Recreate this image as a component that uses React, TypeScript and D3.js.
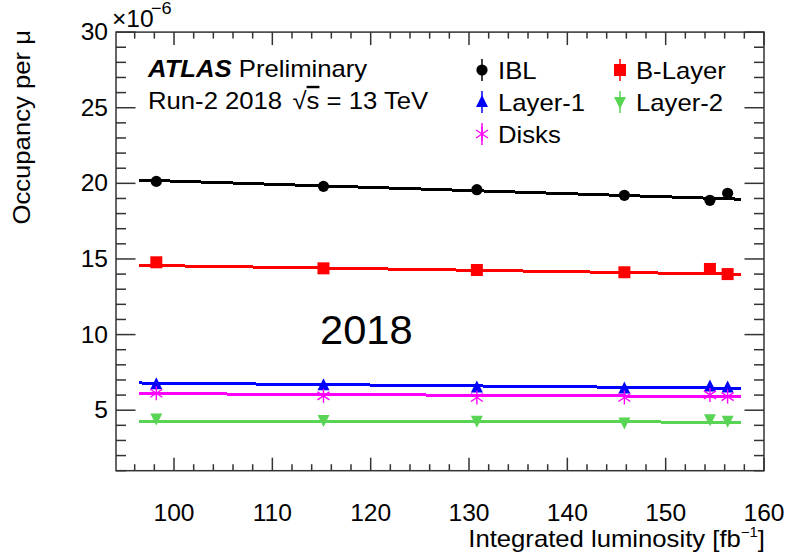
import React from "react";
import * as d3 from "d3";

// ---- data ----
const lumi = [98.2, 115.2, 130.8, 145.8, 154.5, 156.3];
const ibl = [20.13, 19.8, 19.58, 19.21, 18.88, 19.34];
const bLayer = [14.78, 14.38, 14.27, 14.12, 14.34, 14.0];
const layer1 = [6.72, 6.65, 6.5, 6.43, 6.56, 6.5];
const disks = [6.12, 5.95, 5.84, 5.84, 6.01, 5.9];
const layer2 = [4.45, 4.36, 4.3, 4.18, 4.4, 4.3];

const fitRange = [96.4, 157.7];
const fitIBL = [20.22, 18.95];
const fitBLayer = [14.58, 13.99];
const fitLayer1 = [6.8, 6.45];
const fitDisks = [6.1, 5.9];
const fitLayer2 = [4.28, 4.21];

const xTicks = [100, 110, 120, 130, 140, 150, 160];
const yTicks = [5, 10, 15, 20, 25, 30];

type Shape = "circle" | "square" | "up" | "down" | "star";
const series: { name: string; values: number[]; fit: number[]; color: string; shape: Shape }[] = [
  { name: "IBL", values: ibl, fit: fitIBL, color: "#000000", shape: "circle" },
  { name: "B-Layer", values: bLayer, fit: fitBLayer, color: "#ff0000", shape: "square" },
  { name: "Layer-1", values: layer1, fit: fitLayer1, color: "#0000ff", shape: "up" },
  { name: "Layer-2", values: layer2, fit: fitLayer2, color: "#59d454", shape: "down" },
  { name: "Disks", values: disks, fit: fitDisks, color: "#ff00ff", shape: "star" },
];

const FONT = "'Liberation Sans', Arial, Helvetica, sans-serif";
const SX = 1.07; // horizontal stretch of the reference's lettering

const L = 116, R = 764, T = 32.1, B = 470.7;

function Txt({
  x, y, size = 24, anchor = "start", rotate = 0, sx = SX, children,
}: {
  x: number; y: number; size?: number; anchor?: string; rotate?: number; sx?: number; children: React.ReactNode;
}) {
  return (
    <text
      transform={`translate(${x},${y}) rotate(${rotate}) scale(${sx},1)`}
      textAnchor={anchor as any}
      fontSize={size}
      fill="#000"
    >
      {children}
    </text>
  );
}

function Marker({ x, y, shape, color }: { x: number; y: number; shape: Shape; color: string }) {
  switch (shape) {
    case "circle":
      return <circle cx={x} cy={y} r={5.6} fill={color} />;
    case "square":
      return <rect x={x - 6} y={y - 6} width={12} height={12} fill={color} />;
    case "up":
      return <path d={`M${x},${y - 7}L${x + 6},${y + 5}L${x - 6},${y + 5}Z`} fill={color} />;
    case "down":
      return <path d={`M${x},${y + 7}L${x + 6},${y - 5}L${x - 6},${y - 5}Z`} fill={color} />;
    case "star":
      return (
        <g stroke={color} strokeWidth={1.4}>
          <line x1={x} y1={y - 7} x2={x} y2={y + 7} />
          <line x1={x - 6} y1={y - 4} x2={x + 6} y2={y + 4} />
          <line x1={x - 6} y1={y + 4} x2={x + 6} y2={y - 4} />
        </g>
      );
  }
}

export default function App() {
  const x = d3.scaleLinear().domain([94.1, 160]).range([L, R]);
  const y = d3.scaleLinear().domain([1, 30]).range([B, T]);

  const xMinor = d3.range(96, 160.1, 2).filter((v) => v % 10 !== 0);
  const yMinor = d3.range(1, 30.1, 1).filter((v) => v % 5 !== 0);

  const line = d3
    .line<[number, number]>()
    .x((d) => x(d[0]))
    .y((d) => y(d[1]));

  const legend = [
    { s: series[0], lx: 482, ly: 70 },
    { s: series[1], lx: 620, ly: 70 },
    { s: series[2], lx: 482, ly: 102 },
    { s: series[3], lx: 620, ly: 102 },
    { s: series[4], lx: 482, ly: 134 },
  ];

  return (
    <svg
      width={788}
      height={554}
      style={{ position: "absolute", left: 0, top: 0, background: "#fff" }}
      fontFamily={FONT}
    >
      {/* fit lines */}
      {series.map((s) => (
        <path
          key={"fit" + s.name}
          d={line([
            [fitRange[0], s.fit[0]],
            [fitRange[1], s.fit[1]],
          ])!}
          stroke={s.color}
          strokeWidth={3}
          fill="none"
          shapeRendering="crispEdges"
        />
      ))}
      {/* points */}
      {series.map((s) =>
        s.values.map((v, i) => (
          <Marker key={s.name + i} x={x(lumi[i])} y={y(v)} shape={s.shape} color={s.color} />
        ))
      )}

      {/* frame */}
      <rect x={L} y={T} width={R - L} height={B - T} fill="none" stroke="#333" strokeWidth={1.5} />
      {xTicks.map((t) => (
        <g key={"xt" + t} stroke="#333" strokeWidth={1.5}>
          <line x1={x(t)} x2={x(t)} y1={B} y2={B - 13} />
          <line x1={x(t)} x2={x(t)} y1={T} y2={T + 13} />
        </g>
      ))}
      {xMinor.map((t) => (
        <g key={"xm" + t} stroke="#333" strokeWidth={1.5}>
          <line x1={x(t)} x2={x(t)} y1={B} y2={B - 6.5} />
          <line x1={x(t)} x2={x(t)} y1={T} y2={T + 6.5} />
        </g>
      ))}
      {yTicks.map((t) => (
        <g key={"yt" + t} stroke="#333" strokeWidth={1.5}>
          <line x1={L} x2={L + 19.5} y1={y(t)} y2={y(t)} />
          <line x1={R} x2={R - 19.5} y1={y(t)} y2={y(t)} />
        </g>
      ))}
      {yMinor.map((t) => (
        <g key={"ym" + t} stroke="#333" strokeWidth={1.5}>
          <line x1={L} x2={L + 10} y1={y(t)} y2={y(t)} />
          <line x1={R} x2={R - 10} y1={y(t)} y2={y(t)} />
        </g>
      ))}
      {/* tick labels */}
      {xTicks.map((t) => (
        <Txt key={"xl" + t} x={x(t)} y={521} size={23} anchor="middle">
          {t}
        </Txt>
      ))}
      {yTicks.map((t) => (
        <Txt key={"yl" + t} x={108} y={y(t) + 8} size={23} anchor="end">
          {t}
        </Txt>
      ))}
      {/* exponent */}
      <Txt x={112} y={27} size={23}>
        ×10
      </Txt>
      <Txt x={151} y={14} size={17}>
        −6
      </Txt>

      {/* axis titles */}
      <Txt x={765} y={547} size={24} anchor="end">
        Integrated luminosity [fb
        <tspan fontSize={14} dy={-10}>−1</tspan>
        <tspan dy={10}>]</tspan>
      </Txt>
      <Txt x={30} y={30} size={24} anchor="end" rotate={-90}>
        Occupancy per μ
      </Txt>

      {/* ATLAS label */}
      <Txt x={148} y={77} size={24}>
        <tspan fontWeight="bold" fontStyle="italic">ATLAS</tspan>
        <tspan> Preliminary</tspan>
      </Txt>
      <Txt x={148} y={109} size={24}>
        <tspan>Run-2 2018 </tspan>
        <tspan dx={3}>√</tspan>
        <tspan style={{ textDecoration: "overline" }}>s</tspan>
        <tspan> = 13 TeV</tspan>
      </Txt>

      {/* legend */}
      {legend.map(({ s, lx, ly }) => (
        <g key={"lg" + s.name}>
          <line x1={lx} x2={lx} y1={ly - 11} y2={ly + 11} stroke={s.color} strokeWidth={1.5} />
          <Marker x={lx} y={ly} shape={s.shape} color={s.color} />
          <Txt x={lx + 16} y={ly + 8.5} size={24}>
            {s.name}
          </Txt>
        </g>
      ))}

      <Txt x={320} y={344} size={40} sx={1.04}>
        2018
      </Txt>
    </svg>
  );
}
